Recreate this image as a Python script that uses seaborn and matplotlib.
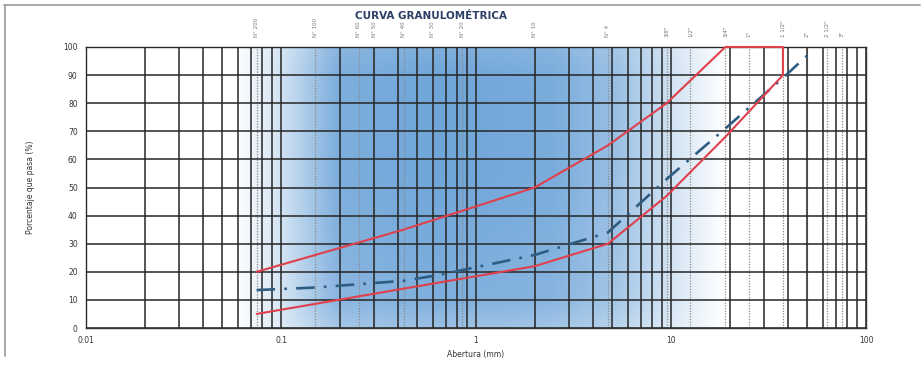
import numpy as np
import pandas as pd
import seaborn as sns
import matplotlib.pyplot as plt
from matplotlib.ticker import LogLocator, NullFormatter, FixedLocator, FixedFormatter
from matplotlib.lines import Line2D

# sieve openings (mm) for the envelope limits
limit_sizes = [0.075, 0.425, 2.0, 4.75, 9.5, 19.0, 37.5]
upper_limit = [20, 35, 50, 65, 80, 100, 100]
lower_limit = [5, 14, 22, 30, 47, 68, 90]

# sample curve
sample_sizes = [0.075, 0.15, 0.3, 0.425, 0.6, 0.85, 2.0, 4.75, 9.5, 19.0, 37.5, 50.0]
sample_pass = [13.5, 14.4, 16, 16.8, 18.5, 20.6, 26, 34, 53, 71, 89, 97]

# sieve series printed on top of the chart
sieve_sizes = [0.075, 0.15, 0.25, 0.3, 0.425, 0.6, 0.85, 2.0, 4.75,
               9.5, 12.5, 19.0, 25.0, 37.5, 50.0, 63.0, 75.0]
sieve_names = ['N° 200', 'N° 100', 'N° 60', 'N° 50', 'N° 40', 'N° 30', 'N° 20', 'N° 10', 'N° 4',
               '3/8"', '1/2"', '3/4"', '1"', '1 1/2"', '2"', '2 1/2"', '3"']

x_ticks = [0.01, 0.1, 1, 10, 100]
x_tick_labels = ['0.01', '0.1', '1', '10', '100']
y_ticks = list(range(0, 101, 10))

sns.set_style("white")
plt.rcParams['font.family'] = ['DejaVu Sans']

fig = plt.figure(figsize=(9.24, 3.67), dpi=100)
ax = fig.add_axes([86 / 924, 1 - 328 / 367, 780 / 924, 281 / 367])

# blue cloud behind the grid (decoration from the scanned sheet)
nx, ny = 400, 120
u = np.linspace(0, 1, nx)
v = np.linspace(0, 1, ny)
ax_prof = np.interp(u, [0, 0.19, 0.25, 0.32, 0.45, 0.6, 0.68, 0.76, 0.82, 1],
                    [0, 0, 0.25, 0.7, 0.78, 0.72, 0.55, 0.22, 0, 0])
ay_prof = np.interp(v, [0, 0.1, 0.55, 0.9, 1], [0.7, 0.9, 1.0, 1.0, 0.9])
alpha = np.outer(ay_prof, ax_prof)
rgba = np.zeros((ny, nx, 4))
rgba[..., 0] = 70 / 255
rgba[..., 1] = 140 / 255
rgba[..., 2] = 206 / 255
rgba[..., 3] = alpha
ax.imshow(rgba, extent=[0, 1, 0, 1], transform=ax.transAxes, aspect='auto',
          origin='lower', zorder=0, interpolation='bilinear')

ax.set_xscale('log')
ax.set_xlim(0.01, 100)
ax.set_ylim(0, 100)

# grid
ax.xaxis.set_major_locator(FixedLocator(x_ticks))
ax.xaxis.set_major_formatter(FixedFormatter(x_tick_labels))
ax.xaxis.set_minor_locator(LogLocator(base=10, subs=np.arange(2, 10)))
ax.xaxis.set_minor_formatter(NullFormatter())
ax.set_yticks(y_ticks)
ax.grid(which='both', axis='x', color='#262626', lw=1.1, zorder=1)
ax.grid(which='major', axis='y', color='#262626', lw=1.1, zorder=1)
ax.set_axisbelow(False)
ax.vlines(sieve_sizes, 0, 100, colors='#8a8a8a', linestyles=(0, (1, 1.2)), lw=0.9, zorder=1)

# envelope (upper limit then back along lower limit)
env = pd.DataFrame({
    'abertura': limit_sizes + limit_sizes[::-1],
    'pasa': upper_limit + lower_limit[::-1],
})
sns.lineplot(data=env, x='abertura', y='pasa', sort=False, estimator=None,
             color='#e0404c', lw=1.5, ax=ax, zorder=5)
ax.lines[-1].set_clip_on(False)

sample = pd.DataFrame({'abertura': sample_sizes, 'pasa': sample_pass})
sns.lineplot(data=sample, x='abertura', y='pasa', sort=False, estimator=None,
             color='#2f5d82', lw=1.9, ax=ax, zorder=4)
ax.lines[-1].set_linestyle((0, (7, 3.5, 1, 3.5)))

for s in ax.spines.values():
    s.set_color('#333333')
    s.set_linewidth(1.0)

ax.tick_params(axis='both', which='both', length=0, labelsize=5.5, labelcolor='#333333', pad=6)
ax.set_xlabel('Abertura (mm)', fontsize=5.5, color='#333333', labelpad=3)
ax.set_ylabel('Porcentaje que pasa (%)', fontsize=5.5, color='#333333', labelpad=20)

# sieve names on top
for s, name in zip(sieve_sizes, sieve_names):
    ax.text(s, 1.035, name, transform=ax.get_xaxis_transform(), rotation=90,
            ha='center', va='bottom', fontsize=4, color='#777777')

fig.text(0.466, 0.957, 'CURVA GRANULOMÉTRICA', ha='center', va='center',
         fontsize=7.5, fontweight='bold', color='#2d3f66')

# page border from the scan
fig.add_artist(Line2D([0.004, 0.996], [0.987, 0.987], transform=fig.transFigure,
                      color='#9a9a9a', lw=1.2))
fig.add_artist(Line2D([0.005, 0.005], [0.987, 0.03], transform=fig.transFigure,
                      color='#9a9a9a', lw=1.2))

plt.savefig('out.png', dpi=100)
plt.close()
